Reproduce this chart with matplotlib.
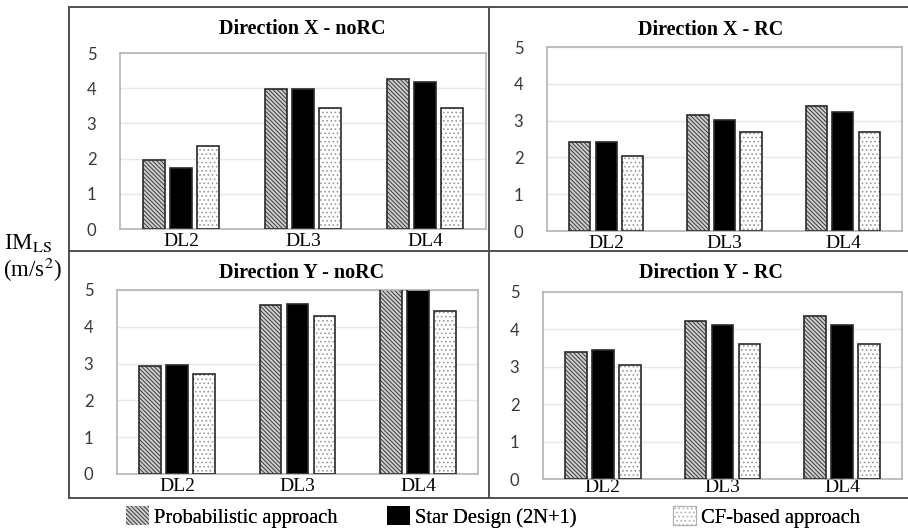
import matplotlib
matplotlib.use("Agg")
import matplotlib.pyplot as plt
from matplotlib.patches import Patch
from matplotlib.lines import Line2D
import numpy as np

# categorias (níveis de dano) e séries
levels = ["DL2", "DL3", "DL4"]
series_names = ["Probabilistic approach", "Star Design (2N+1)", "CF-based approach"]

# Direction X - noRC
x_norc_prob = [1.96, 3.99, 4.27]
x_norc_star = [1.72, 3.98, 4.19]
x_norc_cf = [2.36, 3.43, 3.43]

# Direction X - RC
x_rc_prob = [2.43, 3.16, 3.40]
x_rc_star = [2.42, 3.02, 3.23]
x_rc_cf = [2.03, 2.68, 2.68]

# Direction Y - noRC (DL4 prob/star passam do limite do eixo)
y_norc_prob = [2.94, 4.58, 5.3]
y_norc_star = [2.96, 4.61, 5.2]
y_norc_cf = [2.73, 4.28, 4.44]

# Direction Y - RC
y_rc_prob = [3.40, 4.22, 4.35]
y_rc_star = [3.44, 4.11, 4.12]
y_rc_cf = [3.05, 3.61, 3.61]

W, H = 908, 532
SERIF = "Liberation Serif"
SANS = "Lato"
plt.rcParams["mathtext.fontset"] = "stix"
plt.rcParams["hatch.linewidth"] = 0.7


def fx(x):
    return x / W


def fy(y):
    return 1 - y / H


def axes_px(left, right, top, bottom):
    return [fx(left), fy(bottom), (right - left) / W, (bottom - top) / H]


fig = plt.figure(figsize=(W / 100, H / 100), dpi=100)

# estilos das séries: (cor de fundo, hachura, cor da hachura)
styles = [
    ("#cfcfcf", "\\\\\\\\\\\\\\\\", "#3a3a3a"),
    ("black", None, "black"),
    ("white", "....", "#9a9a9a"),
]
edge = "#2a2a2a"

panels = [
    ("Direction X - noRC", (x_norc_prob, x_norc_star, x_norc_cf), (120, 486, 53, 229), 3),
    ("Direction X - RC", (x_rc_prob, x_rc_star, x_rc_cf), (547, 902, 47, 231), 3),
    ("Direction Y - noRC", (y_norc_prob, y_norc_star, y_norc_cf), (117, 478, 290, 474), 3),
    ("Direction Y - RC", (y_rc_prob, y_rc_star, y_rc_cf), (543, 902, 292, 479), 0),
]
title_pos = [(302, 29), (711, 30), (302, 273), (711, 273)]

x = np.arange(len(levels))
width = 0.18
step = 0.225

for (title, data, box, xpad), (tx, ty) in zip(panels, title_pos):
    ax = fig.add_axes(axes_px(*box))
    for i, vals in enumerate(data):
        fc, hatch, hc = styles[i]
        pos = x + (i - 1) * step
        ax.bar(pos, vals, width, color=fc, edgecolor=hc, hatch=hatch, linewidth=0, zorder=2)
        ax.bar(pos, vals, width, fill=False, edgecolor=edge, linewidth=1.2, zorder=3)
    ax.set_xlim(-0.5, 2.5)
    ax.set_ylim(0, 5)
    ax.set_yticks([0, 1, 2, 3, 4, 5])
    ax.set_xticks(x)
    ax.set_xticklabels(levels, fontfamily=SERIF, fontsize=14)
    for lab in ax.get_yticklabels():
        lab.set_fontfamily(SANS)
        lab.set_fontsize(12)
        lab.set_color("#383838")
    ax.tick_params(axis="both", length=0)
    ax.tick_params(axis="y", pad=17)
    ax.tick_params(axis="x", pad=xpad)
    ax.grid(axis="y", color="#e6e6e6", linewidth=1, zorder=0)
    ax.set_axisbelow(True)
    for s in ax.spines.values():
        s.set_color("#b4b4b4")
        s.set_linewidth(1.2)
    fig.text(fx(tx), fy(ty), title, fontfamily=SERIF, fontweight="bold",
             fontsize=14.5, ha="center", va="center")

# molduras dos painéis
frame_kw = dict(color="#505050", linewidth=1.4, transform=fig.transFigure)
for (x0, y0, x1, y1) in [(69, 7, 908, 7), (69, 7, 69, 498), (489, 7, 489, 498),
                         (69, 251, 908, 251), (69, 498, 908, 498)]:
    fig.add_artist(Line2D([fx(x0), fx(x1)], [fy(y0), fy(y1)], **frame_kw))

# rótulo do eixo y
fig.text(fx(4), fy(243), r"IM$_{\rm LS}$", fontfamily=SERIF, fontsize=16.5, ha="left", va="center")
fig.text(fx(3), fy(270), r"(m/s$^{2}$)", fontfamily=SERIF, fontsize=16.5, ha="left", va="center")

# legenda
handles = [
    Patch(facecolor=styles[0][0], edgecolor=styles[0][2], hatch=styles[0][1], linewidth=0),
    Patch(facecolor="black", edgecolor="black", linewidth=0),
    Patch(facecolor="white", edgecolor="#b0b0b0", hatch=styles[2][1], linewidth=0.8),
]
legend_x = [126, 387, 673]
for h, name, lx in zip(handles, series_names, legend_x):
    leg = fig.legend([h], [name], loc="center left", bbox_to_anchor=(fx(lx), fy(517)),
                     frameon=False, borderpad=0, borderaxespad=0, handlelength=1.1,
                     handleheight=1.05, handletextpad=0.24,
                     prop={"family": SERIF, "size": 14.8})
    fig.add_artist(leg)

fig.savefig("out.png", dpi=100)
